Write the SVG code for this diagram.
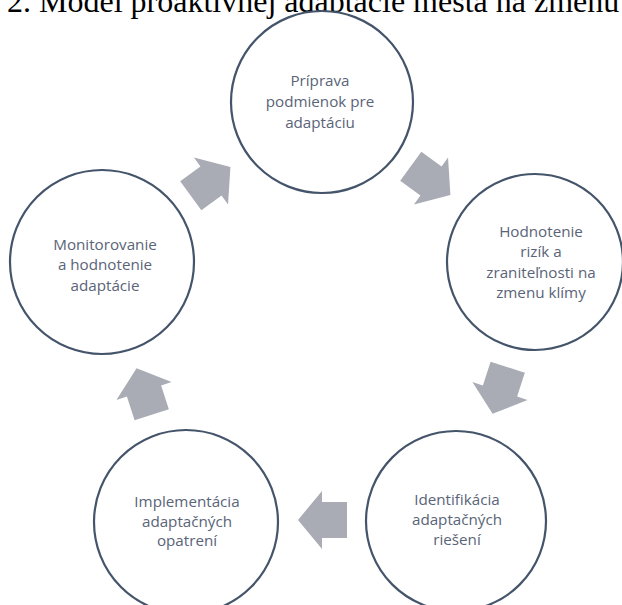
<svg xmlns="http://www.w3.org/2000/svg" width="622" height="605" viewBox="0 0 622 605">
<defs>
<style>
.title{font-family:"Liberation Serif","Times New Roman",serif;font-size:32px;fill:#000}
.node circle{fill:#fff;stroke:#44546a;stroke-width:2.2}
.node text{font-family:"Open Sans","Noto Sans",sans-serif;font-size:15.2px;fill:#5a6478;text-anchor:middle}
.arrow{fill:#a9acb4}
</style>
<path id="arr" d="M-25,-18 L0,-18 L0,-29 L24,0 L0,29 L0,18 L-25,18 Z"/>
</defs>
<rect width="622" height="605" fill="#fff"/>
<text class="title" x="7" y="12">2. Model proaktívnej adaptácie mesta na zmenu</text>
<g id="connectors">
<use href="#arr" class="arrow" transform="translate(431,181) rotate(36)"/>
<use href="#arr" class="arrow" transform="translate(500,391) rotate(108)"/>
<use href="#arr" class="arrow" transform="translate(322,520) rotate(180)"/>
<use href="#arr" class="arrow" transform="translate(144,391) rotate(252)"/>
<use href="#arr" class="arrow" transform="translate(211,181) rotate(324)"/>
</g>
<g id="node-priprava" class="node">
<circle cx="322" cy="102" r="91"/>
<text x="320" y="86">Príprava</text>
<text x="320" y="107">podmienok pre</text>
<text x="320" y="128">adaptáciu</text>
</g>
<g id="node-hodnotenie" class="node">
<circle cx="535" cy="262" r="88"/>
<text x="541" y="237">Hodnotenie</text>
<text x="541" y="257">rizík a</text>
<text x="541" y="278">zraniteľnosti na</text>
<text x="541" y="298">zmenu klímy</text>
</g>
<g id="node-identifikacia" class="node">
<circle cx="456" cy="521" r="90"/>
<text x="457" y="505">Identifikácia</text>
<text x="457" y="525">adaptačných</text>
<text x="457" y="545">riešení</text>
</g>
<g id="node-implementacia" class="node">
<circle cx="186" cy="522" r="92"/>
<text x="187" y="507">Implementácia</text>
<text x="187" y="527">adaptačných</text>
<text x="187" y="546">opatrení</text>
</g>
<g id="node-monitorovanie" class="node">
<circle cx="102" cy="262" r="92"/>
<text x="105" y="250">Monitorovanie</text>
<text x="105" y="270">a hodnotenie</text>
<text x="105" y="291">adaptácie</text>
</g>
</svg>
